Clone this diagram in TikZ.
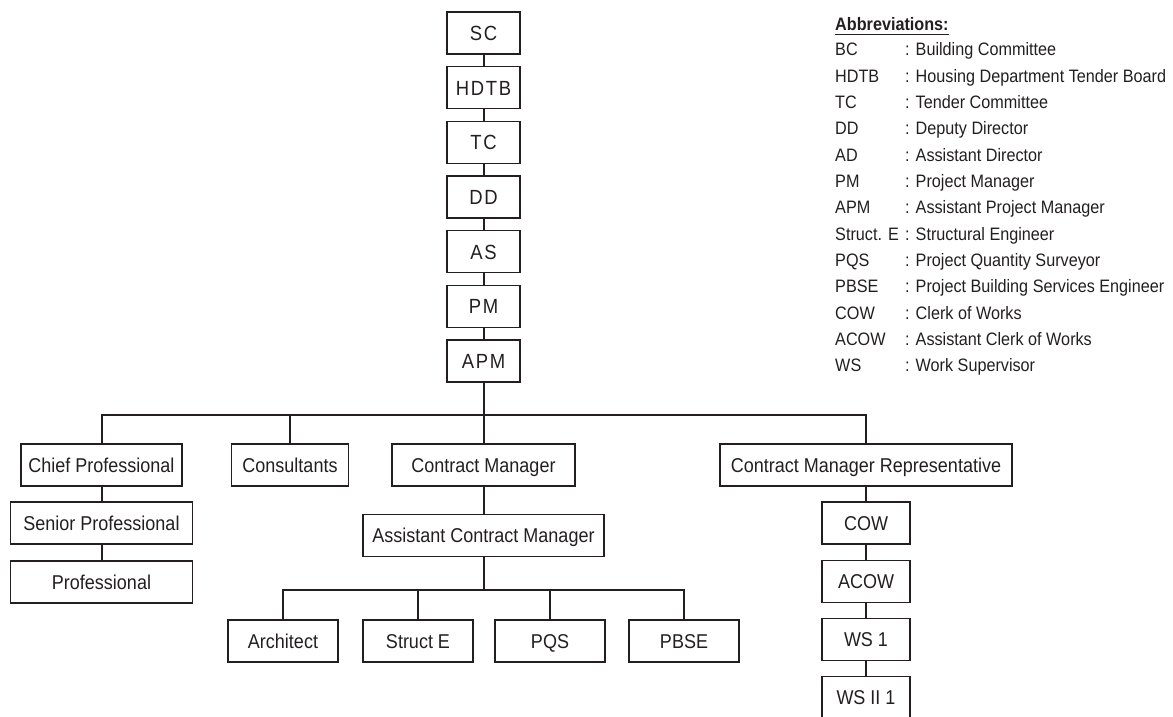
\documentclass[tikz,border=0pt]{standalone}
\usepackage{fontspec}
\newfontfamily\boxfont[FakeStretch=0.9]{Liberation Sans}
\newfontfamily\chainfont[FakeStretch=0.9,LetterSpace=8]{Liberation Sans}
\definecolor{ink}{HTML}{231F20}
\begin{document}
\begin{tikzpicture}[x=1pt,y=-1pt,
  box/.style={draw=ink,line width=1.1pt,inner sep=0pt,text=ink,
    font=\boxfont\fontsize{20}{24}\selectfont,minimum height=42pt,
    text height=14.3pt,text depth=0pt},
  chain/.style={box,minimum width=73pt,font=\chainfont\fontsize{20.5}{24}\selectfont,
    text height=14.7pt},
  conn/.style={draw=ink,line width=2pt},
  leg/.style={inner sep=0pt,anchor=base west,text=ink,
    font=\boxfont\fontsize{18}{22}\selectfont}]
\useasboundingbox (0,0) rectangle (1173,717);
\clip (0,0) rectangle (1173,717);
% top chain
\node[chain] (sc)   at (483.5,33)    {SC};
\node[chain] (hdtb) at (483.5,87.7)  {HDTB};
\node[chain] (tc)   at (483.5,142.3) {TC};
\node[chain] (dd)   at (483.5,197)   {DD};
\node[chain] (as)   at (483.5,251.7) {AS};
\node[chain] (pm)   at (483.5,306.3) {PM};
\node[chain] (apm)  at (483.5,361)   {APM};
% second row
\node[box,minimum width=161pt] (chief) at (101.5,465) {Chief Professional};
\node[box,minimum width=117pt] (cons)  at (290,465)   {Consultants};
\node[box,minimum width=183pt] (cm)    at (483.5,465) {Contract Manager};
\node[box,minimum width=292pt] (cmr)   at (866,465)   {Contract Manager Representative};
% left column
\node[box,minimum width=182pt] (senior) at (101.5,523) {Senior Professional};
\node[box,minimum width=182pt] (prof)   at (101.5,582) {Professional};
% middle
\node[box,minimum width=241pt] (acm) at (483.5,535.7) {Assistant Contract Manager};
\node[box,minimum width=110pt] (arch) at (283,641) {Architect};
\node[box,minimum width=110pt] (se)   at (418,641) {Struct E};
\node[box,minimum width=110pt] (pqs)  at (550,641) {PQS};
\node[box,minimum width=110pt] (pbse) at (684,641) {PBSE};
% right column
\node[box,minimum width=88pt] (cow)  at (866,523)   {COW};
\node[box,minimum width=88pt] (acow) at (866,581.3) {ACOW};
\node[box,minimum width=88pt] (ws1)  at (866,639.3) {WS 1};
\node[box,minimum width=88pt] (ws2)  at (866,697.7) {WS II 1};
% connectors
\draw[conn] (sc) -- (hdtb);
\draw[conn] (hdtb) -- (tc);
\draw[conn] (tc) -- (dd);
\draw[conn] (dd) -- (as);
\draw[conn] (as) -- (pm);
\draw[conn] (pm) -- (apm);
\coordinate (bus) at (483.5,415);
\draw[conn] (apm.south) -- (cm.north);
\draw[conn] (chief.north) |- (bus) -| (cmr.north);
\draw[conn] (cons.north) |- (bus);
\draw[conn] (chief) -- (senior);
\draw[conn] (senior) -- (prof);
\draw[conn] (cm) -- (acm);
\coordinate (sub) at (483.5,590);
\draw[conn] (acm.south) -- (sub);
\draw[conn] (arch.north) |- (sub) -| (pbse.north);
\draw[conn] (se.north) |- (sub);
\draw[conn] (pqs.north) |- (sub);
\draw[conn] (cmr) -- (cow);
\draw[conn] (cow) -- (acow);
\draw[conn] (acow) -- (ws1);
\draw[conn] (ws1) -- (ws2);
% legend
\node[leg,font=\boxfont\bfseries\fontsize{18}{22}\selectfont] (abbr) at (835,31) {Abbreviations:};
\draw[ink,line width=1.3pt] ([yshift=-3.5pt]abbr.base west) -- ([yshift=-3.5pt]abbr.base east);
\foreach \a/\d [count=\i from 0] in {BC/Building Committee,HDTB/Housing Department Tender Board,TC/Tender Committee,DD/Deputy Director,AD/Assistant Director,PM/Project Manager,APM/Assistant Project Manager,Struct. E/Structural Engineer,PQS/Project Quantity Surveyor,PBSE/Project Building Services Engineer,COW/Clerk of Works,ACOW/Assistant Clerk of Works,WS/Work Supervisor}{
  \node[leg] (la\i) at (835,{56+26.3*\i}) {\a};
  \node[leg] (ld\i) at (905,{56+26.3*\i}) {: \d};
}
\end{tikzpicture}
\end{document}
